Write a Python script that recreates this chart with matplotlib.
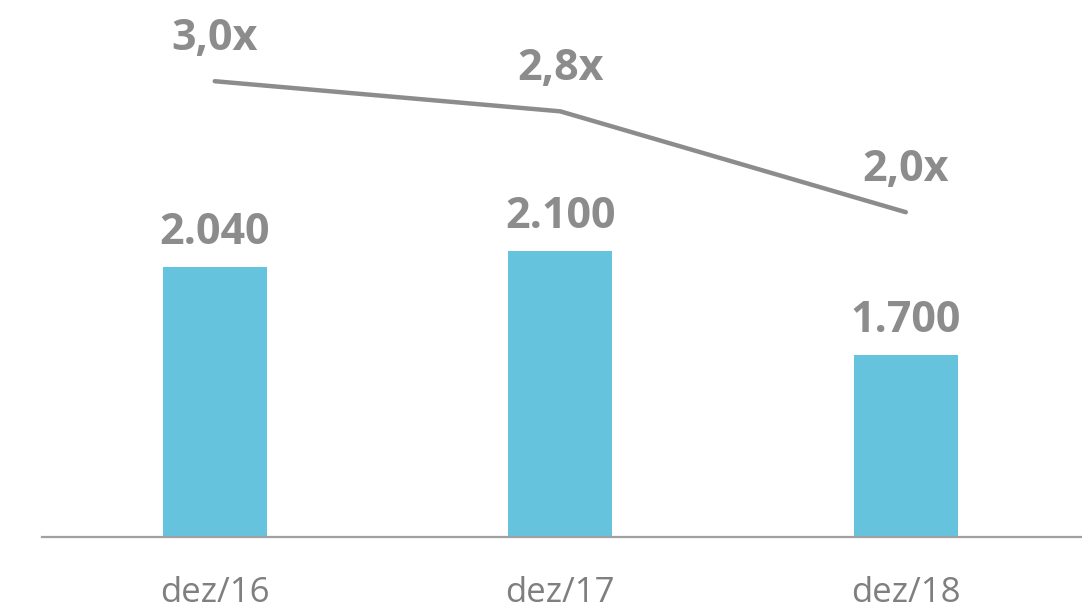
import matplotlib
matplotlib.use("Agg")
import matplotlib.pyplot as plt

# data
periods = ["dez/16", "dez/17", "dez/18"]
amounts = [2040, 2100, 1700]
amount_labels = ["2.040", "2.100", "1.700"]
leverage = [3.0, 2.77, 2.0]
leverage_labels = ["3,0x", "2,8x", "2,0x"]

BAR_COLOR = "#65C3DE"
GRAY = "#8C8C8C"

plt.rcParams["font.family"] = ["Open Sans", "DejaVu Sans"]

fig = plt.figure(figsize=(10.82, 6.11), dpi=100)
ax = fig.add_axes([0.0388, 0.1211, 0.9612, 0.8789])

x = list(range(len(periods)))
ax.bar(x, amounts, width=0.30, color=BAR_COLOR, zorder=2)
ax.set_xlim(-0.5, 2.51)
ax.set_ylim(1000, 3065)

for xi, v, lab in zip(x, amounts, amount_labels):
    ax.annotate(lab, (xi, v), xytext=(0, 9), textcoords="offset points",
                ha="center", va="bottom", fontsize=31, fontweight="bold",
                color=GRAY)

# axis styling
for side in ["top", "right", "left"]:
    ax.spines[side].set_visible(False)
ax.spines["bottom"].set_color("#A0A0A0")
ax.spines["bottom"].set_linewidth(1.6)
ax.set_yticks([])
ax.set_xticks(x)
ax.set_xticklabels(periods, fontsize=25, color="#7F7F7F")
ax.tick_params(axis="x", length=0, pad=28)

# leverage line on secondary axis
ax2 = ax.twinx()
ax2.set_ylim(-0.48, 3.62)
ax2.plot(x, leverage, color=GRAY, linewidth=3.2, solid_capstyle="round", zorder=3)
for xi, v, lab in zip(x, leverage, leverage_labels):
    ax2.annotate(lab, (xi, v), xytext=(0, 15), textcoords="offset points",
                 ha="center", va="bottom", fontsize=31, fontweight="bold",
                 color=GRAY)
ax2.set_yticks([])
for side in ["top", "right", "left", "bottom"]:
    ax2.spines[side].set_visible(False)

fig.savefig("out.png", dpi=100)
